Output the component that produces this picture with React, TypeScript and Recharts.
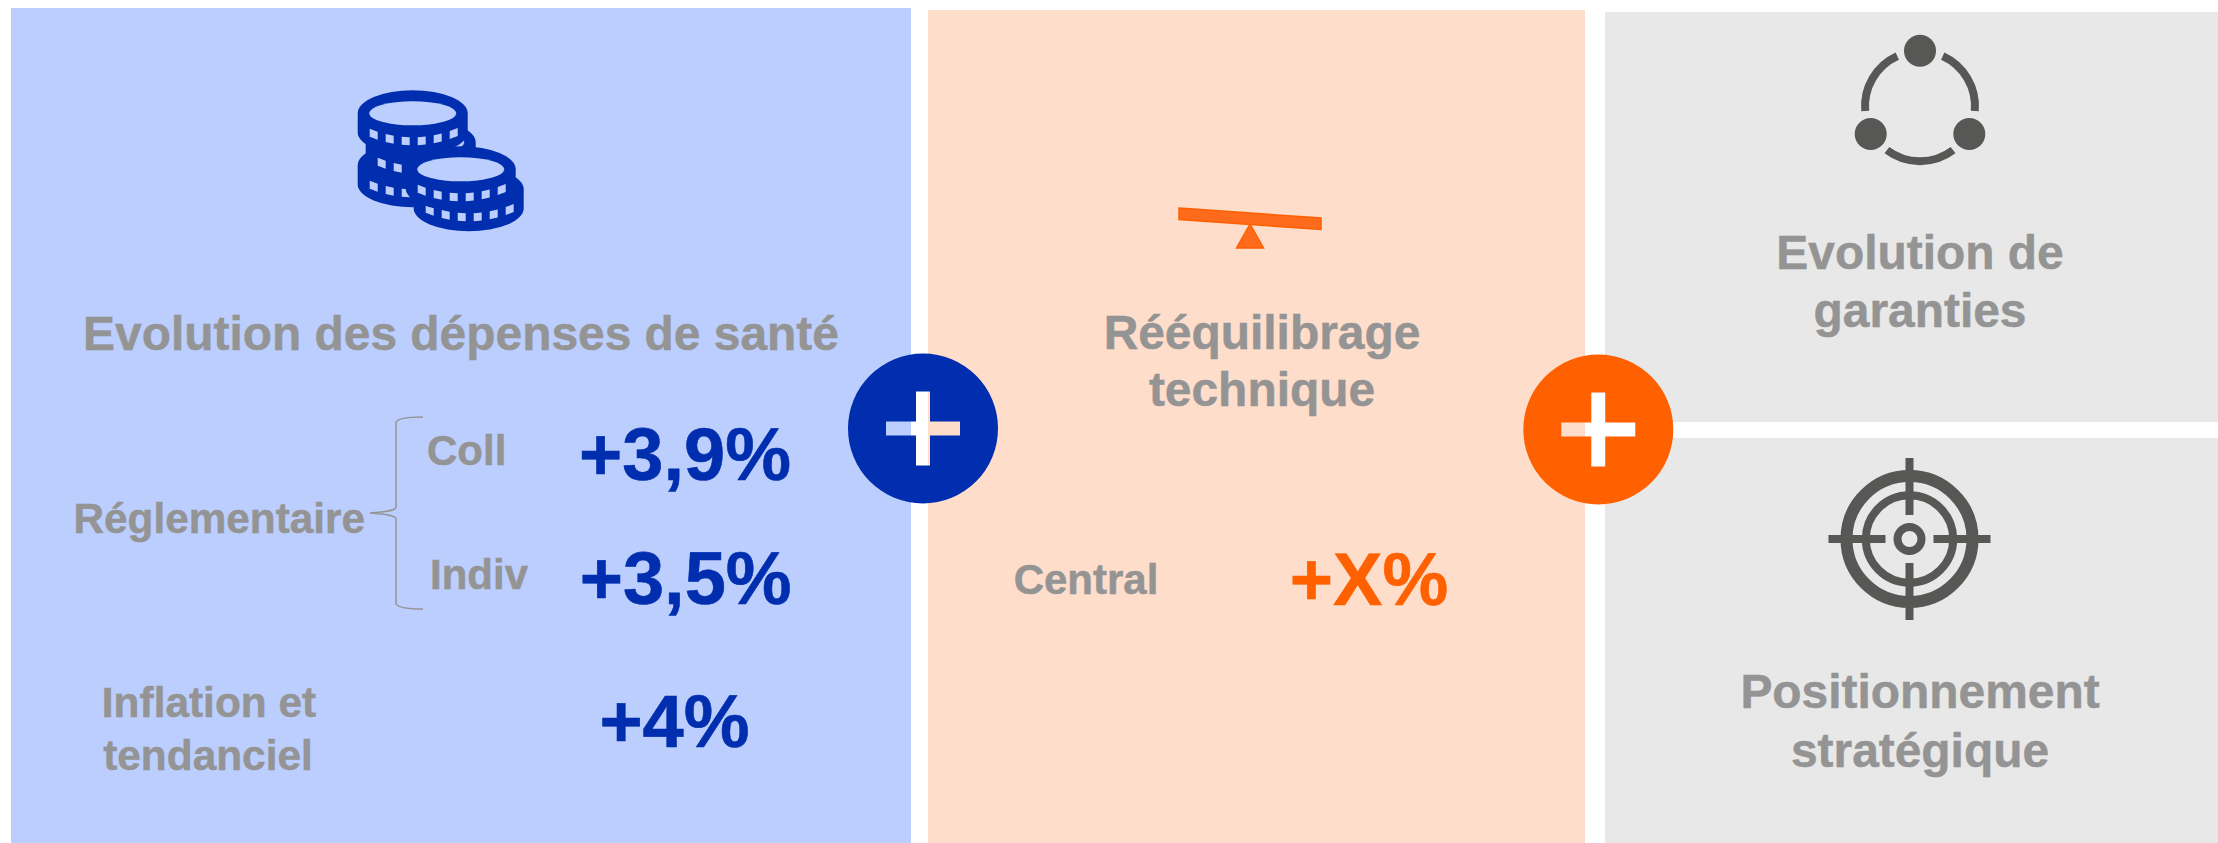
import { ReferenceArea, ReferenceDot, Scatter, ScatterChart, XAxis, YAxis } from 'recharts'

const W = 2218
const H = 843

const BLUE = '#002EAE'
const ORANGE = '#FF6000'
const ICON_GREY = '#575756'
const TEXT_GREY = '#949494'
const BLUE_BG = '#BBCEFE'
const PEACH_BG = '#FFDDCB'
const GREY_BG = '#E8E8E8'

// Content of the slide
const sectionTitles = ['Evolution des dépenses de santé']
const rebalanceTitle = ['Rééquilibrage', 'technique']
const guaranteeTitle = ['Evolution de', 'garanties']
const strategyTitle = ['Positionnement', 'stratégique']
const regulatoryLabel = 'Réglementaire'
const regulatoryRows = ['Coll', 'Indiv']
const regulatoryValues = [3.9, 3.5]
const inflationLabel = ['Inflation et', 'tendanciel']
const inflationValue = 4
const centralLabel = 'Central'
const centralValue = 'X'

const pct = (v: number | string) => `+${String(v).replace('.', ',')}%`

type TextRow = { x: number; y: number; text: string; size: number; fill: string; anchor?: string; heavy?: number }

// Layout is kept apart from the content above
const textRows: TextRow[] = [
  { x: 461, y: 350, text: sectionTitles[0], size: 47.9, fill: TEXT_GREY },
  { x: 73.5, y: 533, text: regulatoryLabel, size: 42.3, fill: TEXT_GREY, anchor: 'start' },
  { x: 427, y: 465, text: regulatoryRows[0], size: 42, fill: TEXT_GREY, anchor: 'start' },
  { x: 430, y: 589, text: regulatoryRows[1], size: 42, fill: TEXT_GREY, anchor: 'start' },
  { x: 685, y: 480, text: pct(regulatoryValues[0]), size: 74, fill: BLUE, heavy: 0.6 },
  { x: 685.7, y: 604, text: pct(regulatoryValues[1]), size: 74, fill: BLUE, heavy: 0.6 },
  { x: 209, y: 717, text: inflationLabel[0], size: 42.4, fill: TEXT_GREY },
  { x: 208, y: 770, text: inflationLabel[1], size: 42.4, fill: TEXT_GREY },
  { x: 674.5, y: 746.5, text: pct(inflationValue), size: 74, fill: BLUE, heavy: 0.6 },
  { x: 1262, y: 349, text: rebalanceTitle[0], size: 47.9, fill: TEXT_GREY },
  { x: 1262, y: 406, text: rebalanceTitle[1], size: 47.9, fill: TEXT_GREY },
  { x: 1086, y: 594, text: centralLabel, size: 42, fill: TEXT_GREY },
  { x: 1369, y: 604.5, text: pct(centralValue), size: 74, fill: ORANGE, heavy: 0.6 },
  { x: 1920, y: 269, text: guaranteeTitle[0], size: 47.9, fill: TEXT_GREY },
  { x: 1920, y: 327, text: guaranteeTitle[1], size: 47.9, fill: TEXT_GREY },
  { x: 1920, y: 708, text: strategyTitle[0], size: 47.9, fill: TEXT_GREY },
  { x: 1920, y: 767, text: strategyTitle[1], size: 47.9, fill: TEXT_GREY },
]

function TextMark(props: any) {
  const { cx, cy, payload } = props
  return (
    <text
      x={cx}
      y={cy}
      fontFamily="'Liberation Sans', Arial, sans-serif"
      fontWeight={700}
      fontSize={payload.size}
      fill={payload.fill}
      stroke={payload.fill}
      strokeWidth={payload.heavy ?? 0.5}
      textAnchor={payload.anchor ?? 'middle'}
    >
      {payload.text}
    </text>
  )
}

// Six notches on a coin's edge, straight sides, following the rim's curve
const notchOffsets = [-43, -27, -11, 5, 21, 37]
const rim = (dx: number) => 28 - 0.0046 * dx * dx

// One coin: body, top hole and the row of edge notches
function Coin({ x, y }: { x: number; y: number }) {
  const body = `M${x - 55} ${y} A55 23 0 0 1 ${x + 55} ${y} L${x + 55} ${y + 19} A55 23 0 0 1 ${x - 55} ${y + 19} Z`
  return (
    <g>
      <path d={body} fill={BLUE} />
      <ellipse cx={x} cy={y} rx={43.5} ry={12} fill={BLUE_BG} />
      {notchOffsets.map((dx) => {
        const a = dx
        const b = dx + 8
        return (
          <polygon
            key={dx}
            fill={BLUE_BG}
            points={`${x + a},${y + rim(a) - 4} ${x + b},${y + rim(b) - 4} ${x + b},${y + rim(b) + 4} ${x + a},${y + rim(a) + 4}`}
          />
        )
      })}
    </g>
  )
}

function CoinsIcon({ cx, cy }: any) {
  return (
    <g>
      <Coin x={cx} y={cy + 52} />
      <Coin x={cx + 8} y={cy + 29} />
      <Coin x={cx} y={cy} />
      <Coin x={cx + 56} y={cy + 76} />
      <Coin x={cx + 48} y={cy + 56} />
    </g>
  )
}

function SeesawIcon({ cx, cy }: any) {
  const pts = (list: number[][]) => list.map(([a, b]) => `${cx + a},${cy + b}`).join(' ')
  return (
    <g fill="#FF6B1C" stroke={ORANGE} strokeWidth={1.5}>
      <polygon points={pts([[-71, -11], [71, -1], [71, 10.5], [-71, 0.5]])} />
      <polygon points={pts([[0, 5], [-13.5, 29], [13.5, 29]])} />
    </g>
  )
}

const arc = (cx: number, cy: number, r: number, from: number, to: number) => {
  const p = (deg: number) => [cx + r * Math.cos((deg * Math.PI) / 180), cy + r * Math.sin((deg * Math.PI) / 180)]
  const [x1, y1] = p(from)
  const [x2, y2] = p(to)
  return `M${x1} ${y1} A${r} ${r} 0 0 1 ${x2} ${y2}`
}

function NetworkIcon({ cx, cy }: any) {
  return (
    <g>
      <g fill="none" stroke={ICON_GREY} strokeWidth={8}>
        <path d={arc(cx, cy, 55, 175, 245.6)} />
        <path d={arc(cx, cy, 55, 294.4, 365)} />
        <path d={arc(cx, cy, 55, 53, 127)} />
      </g>
      <g fill={ICON_GREY}>
        <circle cx={cx} cy={cy - 55.5} r={16} />
        <circle cx={cx - 49.3} cy={cy + 27.8} r={16} />
        <circle cx={cx + 49.3} cy={cy + 27.8} r={16} />
      </g>
    </g>
  )
}

function TargetIcon({ cx, cy }: any) {
  return (
    <g fill="none" stroke={ICON_GREY}>
      <circle cx={cx} cy={cy} r={63} strokeWidth={12} />
      <circle cx={cx} cy={cy} r={43.7} strokeWidth={8} />
      <circle cx={cx} cy={cy} r={12} strokeWidth={8} />
      <path
        strokeWidth={8}
        d={`M${cx} ${cy - 81} V${cy - 24} M${cx} ${cy + 24} V${cy + 81} M${cx - 81} ${cy} H${cx - 24} M${cx + 24} ${cy} H${cx + 81}`}
      />
    </g>
  )
}

// Disc with a plus cut out, the panels show through it
function PlusBadge({ cx, cy, fill }: any) {
  const r = 75
  const d =
    `M${cx - r} ${cy} A${r} ${r} 0 1 1 ${cx + r} ${cy} A${r} ${r} 0 1 1 ${cx - r} ${cy} Z ` +
    `M${cx - 7} ${cy - 37} H${cx + 7} V${cy - 7} H${cx + 37} V${cy + 7} H${cx + 7} V${cy + 37} H${cx - 7} V${cy + 7} H${cx - 37} V${cy - 7} H${cx - 7} Z`
  return <path d={d} fill={fill} fillRule="evenodd" />
}

function Brace({ cx, cy }: any) {
  const d =
    `M${cx + 53} ${cy - 96} C${cx + 38} ${cy - 96} ${cx + 26} ${cy - 95} ${cx + 26} ${cy - 90} ` +
    `V${cy - 6} C${cx + 26} ${cy - 2} ${cx + 14} ${cy - 1} ${cx} ${cy} ` +
    `C${cx + 14} ${cy + 1} ${cx + 26} ${cy + 2} ${cx + 26} ${cy + 6} ` +
    `V${cy + 90} C${cx + 26} ${cy + 95} ${cx + 38} ${cy + 96} ${cx + 53} ${cy + 96}`
  return <path d={d} fill="none" stroke={TEXT_GREY} strokeWidth={1.5} />
}

export default function App() {
  return (
    <div style={{ position: 'absolute', left: 0, top: 0, width: W, height: H, background: '#fff' }}>
      <ScatterChart width={W} height={H} margin={{ top: 0, right: 0, bottom: 0, left: 0 }}>
        <XAxis type="number" dataKey="x" domain={[0, W]} hide />
        <YAxis type="number" dataKey="y" domain={[0, H]} reversed hide />

        <ReferenceArea x1={11} x2={911} y1={8} y2={H} fill={BLUE_BG} fillOpacity={1} stroke="none" />
        <ReferenceArea x1={928} x2={1585} y1={10} y2={H} fill={PEACH_BG} fillOpacity={1} stroke="none" />
        <ReferenceArea x1={1605} x2={W} y1={12} y2={422} fill={GREY_BG} fillOpacity={1} stroke="none" />
        <ReferenceArea x1={1605} x2={W} y1={438} y2={H} fill={GREY_BG} fillOpacity={1} stroke="none" />

        <ReferenceDot x={412.7} y={113.3} shape={CoinsIcon} />
        <ReferenceDot x={1250} y={219} shape={SeesawIcon} />
        <ReferenceDot x={1920} y={106.2} shape={NetworkIcon} />
        <ReferenceDot x={1909.5} y={539} shape={TargetIcon} />
        <ReferenceDot x={370} y={513} shape={Brace} />
        <ReferenceDot x={923} y={428.5} shape={(p: any) => <PlusBadge {...p} fill={BLUE} />} />
        <ReferenceDot x={1598.3} y={429.5} shape={(p: any) => <PlusBadge {...p} fill={ORANGE} />} />

        <Scatter data={textRows} dataKey="y" shape={TextMark} isAnimationActive={false} />
      </ScatterChart>
    </div>
  )
}
